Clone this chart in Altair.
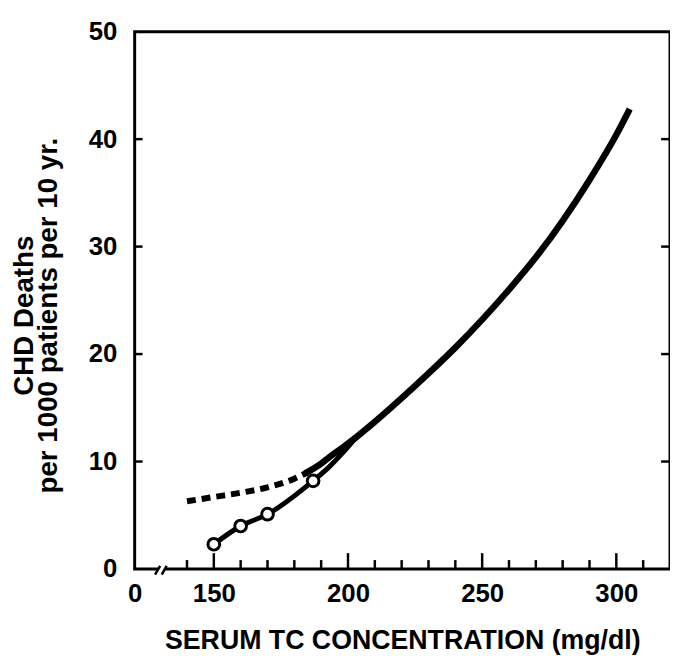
import altair as alt
import pandas as pd

# ---- data ----
obs_x = [150, 160, 170, 187]
obs_y = [2.3, 4.0, 5.1, 8.2]

low_x = [150, 160, 170, 187, 193, 198, 203]
low_y = [2.3, 4.0, 5.1, 8.2, 9.5, 10.8, 12.25]

dash_x = [140, 150, 160, 170, 180, 185]
dash_y = [6.3, 6.7, 7.1, 7.6, 8.4, 9.0]

main_x = [184, 190, 193, 198, 203, 210, 220, 230, 240, 250, 260, 270, 280, 290, 300, 305]
main_y = [8.9, 9.8, 10.4, 11.3, 12.25, 13.7, 15.9, 18.2, 20.6, 23.2, 26.0, 29.0, 32.4, 36.2, 40.4, 42.8]

x_label_values = [120.5, 150, 200, 250, 300]
x_major_ticks = [150, 200, 250, 300]
x_minor_ticks = [140, 160, 170, 180, 190, 210, 220, 230, 240, 260, 270, 280, 290, 310]
y_label_values = [0, 10, 20, 30, 40, 50]
y_ticks = [10, 20, 30, 40]

y_title_lines = ["\u00a0" * 6 + "CHD Deaths", "per 1000 patients per 10 yr."]
x_title = "SERUM TC CONCENTRATION (mg/dl)"

break_gap = {"x": [129.3], "x2": [131.7], "y": [0]}
break_slash = {"x": [128.1, 130.6], "x2": [130.0, 132.4], "y": [-0.53, -0.53], "y2": [0.29, 0.29]}

W, H = 541, 543
FONT = "Liberation Sans"

xs = alt.Scale(domain=[120.5, 320], nice=False, zero=False)
ys = alt.Scale(domain=[0, 50], nice=False, zero=False)

x_axis = alt.Axis(
    values=x_label_values, format="d",
    labelExpr="datum.value < 130 ? '0' : datum.label",
    ticks=False, domain=False, grid=False,
    labelFont=FONT, labelFontSize=26, labelFontWeight="bold", labelColor="black",
    labelPadding=12, labelFlush=False, labelOverlap=False,
    title=x_title, titleFont=FONT, titleFontSize=27,
    titleFontWeight="bold", titleColor="black", titleY=80.5, titleBaseline="alphabetic",
)
y_axis = alt.Axis(
    values=y_label_values, format="d",
    ticks=False, domain=False, grid=False,
    labelFont=FONT, labelFontSize=26, labelFontWeight="bold", labelColor="black",
    labelPadding=18, labelFlush=False, labelOverlap=False,
    title=y_title_lines, titleFont=FONT, titleFontSize=28,
    titleFontWeight="bold", titleColor="black", titleAngle=270, titleAlign="center",
    titleBaseline="middle", titleLineHeight=24, titleX=-111, titleY=286.5,
)

df_main = pd.DataFrame({"x": main_x, "y": main_y})
df_low = pd.DataFrame({"x": low_x, "y": low_y})
df_dash = pd.DataFrame({"x": dash_x, "y": dash_y})
df_obs = pd.DataFrame({"x": obs_x, "y": obs_y})


def X(f="x"):
    return alt.X(f"{f}:Q", scale=xs)


def Y(f="y"):
    return alt.Y(f"{f}:Q", scale=ys)


axes_layer = alt.Chart(df_main).mark_point(opacity=0).encode(
    x=alt.X("x:Q", scale=xs, axis=x_axis),
    y=alt.Y("y:Q", scale=ys, axis=y_axis),
)

minor = alt.Chart(pd.DataFrame({"x": x_minor_ticks})).mark_rule(color="black", strokeWidth=2.5).encode(
    x=X(), y=alt.value(H), y2=alt.value(H - 9))
major = alt.Chart(pd.DataFrame({"x": x_major_ticks})).mark_rule(color="black", strokeWidth=2.5).encode(
    x=X(), y=alt.value(H), y2=alt.value(H - 16))
yleft = alt.Chart(pd.DataFrame({"y": y_ticks})).mark_rule(color="black", strokeWidth=2.5).encode(
    y=Y(), x=alt.value(0), x2=alt.value(8))
yright = alt.Chart(pd.DataFrame({"y": y_ticks})).mark_rule(color="black", strokeWidth=2.5).encode(
    y=Y(), x=alt.value(W), x2=alt.value(W - 9))

gap = alt.Chart(pd.DataFrame(break_gap)).mark_rule(color="white", strokeWidth=6).encode(
    x=X(), x2="x2:Q", y=Y())
slash = alt.Chart(pd.DataFrame(break_slash)).mark_rule(color="black", strokeWidth=2.5).encode(
    x=X(), x2="x2:Q", y=Y(), y2="y2:Q")

main_line = alt.Chart(df_main).mark_line(color="black", strokeWidth=6.5, interpolate="monotone",
                                         strokeCap="butt").encode(x=X(), y=Y())
low_line = alt.Chart(df_low).mark_line(color="black", strokeWidth=5, interpolate="monotone").encode(
    x=X(), y=Y())
dash_line = alt.Chart(df_dash).mark_line(color="black", strokeWidth=6, interpolate="monotone",
                                         strokeDash=[9, 6], strokeCap="butt").encode(x=X(), y=Y())
pts = alt.Chart(df_obs).mark_point(shape="circle", filled=True, fill="white", stroke="black",
                                   strokeWidth=3, size=140, opacity=1).encode(x=X(), y=Y())

chart = alt.layer(
    axes_layer, gap, slash, minor, major, yleft, yright, dash_line, main_line, low_line, pts
).properties(
    width=W, height=H,
    autosize=alt.AutoSizeParams(type="none"),
    padding={"left": 128, "top": 20.5, "right": 0, "bottom": 84.5},
).configure(
    font=FONT,
    view=alt.ViewConfig(stroke="black", strokeWidth=3),
)

chart.save("out.html", embed_options={"renderer": "svg", "actions": False})
